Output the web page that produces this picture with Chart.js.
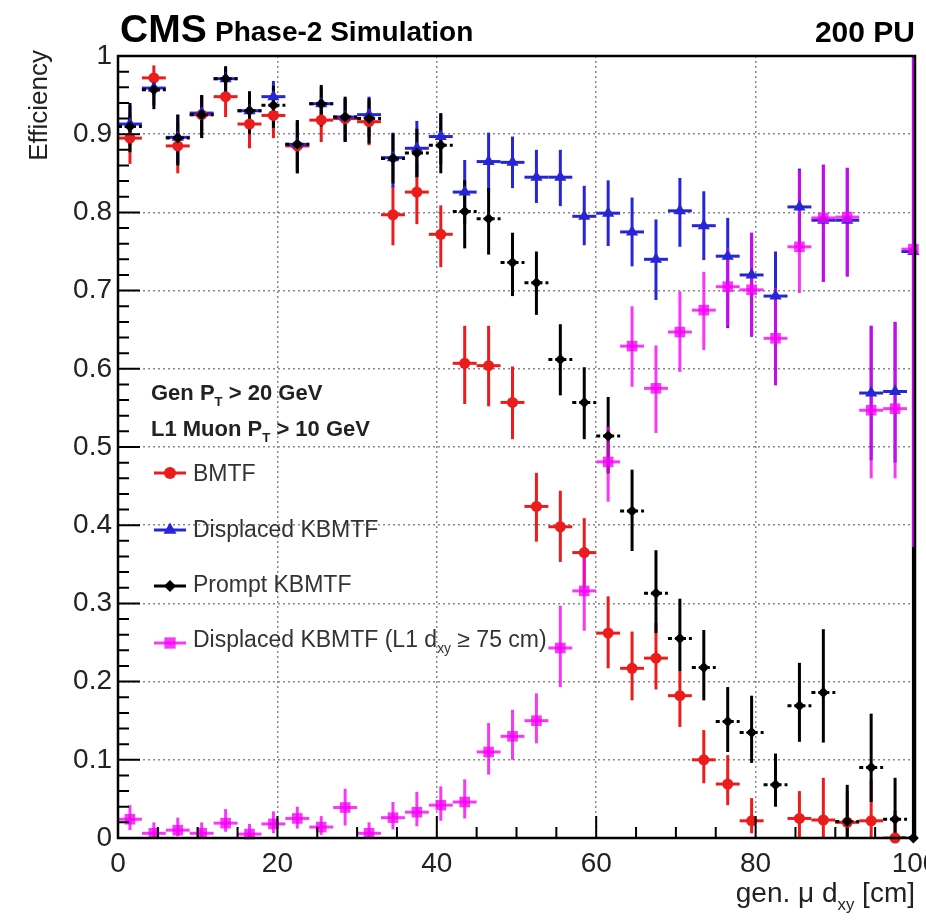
<!DOCTYPE html>
<html>
<head>
<meta charset="utf-8">
<title>L1 muon efficiency vs gen dxy</title>
<script src="https://cdn.jsdelivr.net/npm/chart.js@4.4.1/dist/chart.umd.min.js"></script>
<style>
  html, body { margin:0; padding:0; background:#fff; }
  #wrap { position:relative; width:926px; height:924px; overflow:hidden;
          font-family:"Liberation Sans", Arial, Helvetica, sans-serif; }
  #wrap canvas { position:absolute; left:0; top:0; }
  .lbl { position:absolute; white-space:nowrap; line-height:1; }
  .sub { font-size:60%; position:relative; top:0.45em; }
</style>
</head>
<body>
<div id="wrap"><canvas id="c" width="926" height="924"></canvas></div>
<script>
// efficiency vs generated muon dxy
// bin centres in cm (3 cm bins, last one sits on the right edge)
const binCenters = [1.5, 4.5, 7.5, 10.5, 13.5, 16.5, 19.5, 22.5, 25.5, 28.5, 31.5, 34.5,
  37.5, 40.5, 43.5, 46.5, 49.5, 52.5, 55.5, 58.5, 61.5, 64.5, 67.5, 70.5, 73.5, 76.5,
  79.5, 82.5, 85.5, 88.5, 91.5, 94.5, 97.5, 99.8];
const BIN_HALF = 1.5;

// BMTF (red)
const bmtfEff = [0.895, 0.972, 0.885, 0.925, 0.948, 0.913, 0.924, 0.885, 0.918, 0.920, 0.916, 0.797,
  0.826, 0.772, 0.607, 0.604, 0.557, 0.424, 0.398, 0.365, 0.262, 0.217, 0.230, 0.182, 0.100, 0.069,
  0.022, null, 0.025, 0.023, 0.020, 0.022, 0.0, null];
const bmtfLo = [0.862, 0.950, 0.850, 0.897, 0.922, 0.882, 0.895, 0.850, 0.890, 0.890, 0.886, 0.758,
  0.785, 0.730, 0.555, 0.552, 0.510, 0.379, 0.353, 0.320, 0.217, 0.176, 0.190, 0.142, 0.070, 0.042,
  0.006, null, 0.0, 0.0, 0.0, 0.0, 0.0, null];
const bmtfHi = [0.925, 0.988, 0.915, 0.950, 0.968, 0.940, 0.950, 0.915, 0.943, 0.945, 0.942, 0.834,
  0.865, 0.809, 0.655, 0.655, 0.603, 0.467, 0.444, 0.409, 0.309, 0.264, 0.275, 0.213, 0.138, 0.106,
  0.051, null, 0.060, 0.077, 0.060, 0.075, 0.035, null];

// Displaced KBMTF (blue)
const dispEff = [0.913, 0.959, 0.896, 0.927, 0.971, 0.930, 0.948, 0.887, 0.939, 0.922, 0.925, 0.870,
  0.882, 0.897, 0.826, 0.865, 0.864, 0.845, 0.845, 0.795, 0.799, 0.775, 0.740, 0.802, 0.783, 0.744,
  0.720, 0.693, 0.807, 0.790, 0.790, 0.569, 0.571, 0.750];
const dispLo = [0.885, 0.937, 0.862, 0.900, 0.952, 0.902, 0.922, 0.852, 0.912, 0.892, 0.897, 0.832,
  0.845, 0.862, 0.785, 0.825, 0.831, 0.812, 0.808, 0.758, 0.757, 0.731, 0.688, 0.756, 0.739, 0.652,
  0.641, 0.579, 0.750, 0.711, 0.718, 0.483, 0.480, 0.372];
const dispHi = [0.937, 0.976, 0.925, 0.950, 0.985, 0.953, 0.968, 0.918, 0.960, 0.946, 0.948, 0.902,
  0.917, 0.926, 0.867, 0.902, 0.897, 0.880, 0.880, 0.834, 0.841, 0.819, 0.791, 0.844, 0.827, 0.793,
  0.774, 0.750, 0.856, 0.861, 0.857, 0.655, 0.660, 1.0];

// Prompt KBMTF (black)
const promptEff = [0.910, 0.957, 0.895, 0.925, 0.971, 0.930, 0.937, 0.887, 0.939, 0.922, 0.920, 0.869,
  0.876, 0.886, 0.801, 0.792, 0.736, 0.710, 0.612, 0.557, 0.514, 0.418, 0.313, 0.255, 0.218, 0.149,
  0.135, 0.068, 0.169, 0.186, 0.021, 0.090, 0.024, 0.0];
const promptLo = [0.877, 0.932, 0.860, 0.895, 0.950, 0.900, 0.908, 0.850, 0.910, 0.890, 0.888, 0.837,
  0.845, 0.850, 0.754, 0.746, 0.693, 0.669, 0.566, 0.510, 0.466, 0.367, 0.262, 0.213, 0.176, 0.110,
  0.096, 0.040, 0.123, 0.122, 0.0, 0.046, 0.0, 0.0];
const promptHi = [0.940, 0.976, 0.925, 0.950, 0.987, 0.955, 0.962, 0.918, 0.963, 0.948, 0.946, 0.901,
  0.907, 0.927, 0.841, 0.831, 0.774, 0.750, 0.657, 0.602, 0.564, 0.471, 0.368, 0.306, 0.266, 0.193,
  0.182, 0.108, 0.224, 0.267, 0.068, 0.159, 0.077, 0.372];

// Displaced KBMTF, L1 dxy >= 75 cm (magenta)
const disp75Eff = [0.024, 0.006, 0.010, 0.006, 0.019, 0.005, 0.018, 0.025, 0.014, 0.039, 0.006, 0.026,
  0.033, 0.042, 0.046, 0.110, 0.130, 0.150, 0.243, 0.316, 0.481, 0.629, 0.575, 0.647, 0.675, 0.705,
  0.701, 0.639, 0.756, 0.793, 0.794, 0.547, 0.549, 0.753];
const disp75Lo = [0.010, 0.0, 0.002, 0.0, 0.008, 0.0, 0.006, 0.012, 0.004, 0.016, 0.0, 0.011,
  0.015, 0.022, 0.025, 0.081, 0.100, 0.121, 0.193, 0.265, 0.430, 0.577, 0.518, 0.596, 0.624, 0.654,
  0.641, 0.579, 0.697, 0.711, 0.718, 0.460, 0.460, 0.372];
const disp75Hi = [0.042, 0.020, 0.026, 0.020, 0.037, 0.018, 0.034, 0.040, 0.028, 0.063, 0.020, 0.046,
  0.059, 0.066, 0.075, 0.147, 0.164, 0.185, 0.297, 0.368, 0.526, 0.680, 0.630, 0.699, 0.724, 0.754,
  0.774, 0.703, 0.854, 0.861, 0.857, 0.655, 0.660, 1.0];

// axis ticks
const xTicks = [0, 20, 40, 60, 80, 100];
const xTickLabels = ['0', '20', '40', '60', '80', '100'];
const yTicks = [0, 0.1, 0.2, 0.3, 0.4, 0.5, 0.6, 0.7, 0.8, 0.9, 1];
const yTickLabels = ['0', '0.1', '0.2', '0.3', '0.4', '0.5', '0.6', '0.7', '0.8', '0.9', '1'];

const W = 926;
const RED = 'rgb(236,28,28)', BLUE = 'rgb(38,38,214)', BLACK = '#000',
      MAGENTA = 'rgba(246,0,246,0.78)';

function points(eff, lo, hi) {
  const out = [];
  binCenters.forEach((x, i) => {
    if (eff[i] === null) return;
    out.push({ x: x, y: eff[i], lo: lo[i], hi: hi[i] });
  });
  return out;
}

// vertical + horizontal error bars, drawn under the markers
const errorBars = {
  id: 'errorBars',
  beforeDatasetsDraw(chart) {
    const { ctx, chartArea: a, scales: { x, y } } = chart;
    ctx.save();
    ctx.beginPath();
    ctx.rect(a.left, a.top - 2, a.width, a.height + 2);
    ctx.clip();
    chart.data.datasets.forEach(ds => {
      ctx.strokeStyle = ds.borderColor;
      ctx.lineWidth = 3;
      ds.data.forEach(p => {
        const px = x.getPixelForValue(p.x), py = y.getPixelForValue(p.y);
        ctx.setLineDash([]);
        ctx.beginPath();
        ctx.moveTo(px, y.getPixelForValue(p.lo));
        ctx.lineTo(px, y.getPixelForValue(p.hi));
        ctx.stroke();
        ctx.setLineDash(ds.hDash || []);
        ctx.beginPath();
        ctx.moveTo(x.getPixelForValue(p.x - BIN_HALF), py);
        ctx.lineTo(x.getPixelForValue(p.x + BIN_HALF), py);
        ctx.stroke();
      });
    });
    ctx.restore();
  }
};

function marker(ctx, style, cx, cy, r, color) {
  ctx.fillStyle = color;
  ctx.beginPath();
  if (style === 'circle') ctx.arc(cx, cy, r, 0, Math.PI * 2);
  else if (style === 'triangle') {
    ctx.moveTo(cx, cy - r); ctx.lineTo(cx + r * 0.866, cy + r * 0.5); ctx.lineTo(cx - r * 0.866, cy + r * 0.5);
  } else if (style === 'rectRot') {
    ctx.moveTo(cx, cy - r); ctx.lineTo(cx + r, cy); ctx.lineTo(cx, cy + r); ctx.lineTo(cx - r, cy);
  } else {
    const s = r * Math.SQRT1_2; ctx.rect(cx - s, cy - s, 2 * s, 2 * s);
  }
  ctx.closePath();
  ctx.fill();
}

// ROOT-like frame with inward ticks, plus legend swatches
const frame = {
  id: 'frame',
  afterDraw(chart) {
    const { ctx, chartArea: a, scales: { x, y } } = chart;
    ctx.save();
    ctx.strokeStyle = '#000';
    ctx.lineWidth = 2;
    ctx.beginPath();
    for (let v = 0; v <= 100.001; v += 5) {
      const px = x.getPixelForValue(v), len = (v % 20 === 0) ? 22 : 11;
      ctx.moveTo(px, a.bottom); ctx.lineTo(px, a.bottom - len);
    }
    for (let k = 0; k <= 50; k++) {
      const py = y.getPixelForValue(k * 0.02), len = (k % 5 === 0) ? 22 : 11;
      ctx.moveTo(a.left, py); ctx.lineTo(a.left + len, py);
    }
    ctx.stroke();
    ctx.lineWidth = 2.5;
    ctx.strokeRect(a.left, a.top, a.right - a.left, a.bottom - a.top);

    // legend swatches
    const rows = [[473, RED, 'circle', 6], [530, BLUE, 'triangle', 7.5], [586, BLACK, 'rectRot', 6], [643, MAGENTA, 'rect', 8]];
    rows.forEach(r => {
      ctx.strokeStyle = r[1];
      ctx.lineWidth = 3;
      ctx.beginPath(); ctx.moveTo(154, r[0]); ctx.lineTo(186, r[0]); ctx.stroke();
      marker(ctx, r[2], 170, r[0], r[3], r[1]);
    });
    ctx.restore();
  }
};

Chart.defaults.font.family = '"Liberation Sans", Arial, sans-serif';

function ds(label, eff, lo, hi, color, style, radius, order, hDash) {
  return {
    label: label, data: points(eff, lo, hi),
    borderColor: color, backgroundColor: color,
    pointStyle: style, pointRadius: radius, pointBorderWidth: 0,
    pointHoverRadius: radius, showLine: false, clip: false, order: order, hDash: hDash
  };
}

new Chart(document.getElementById('c'), {
  type: 'scatter',
  data: {
    datasets: [
      ds('BMTF', bmtfEff, bmtfLo, bmtfHi, RED, 'circle', 5.5, 4),
      ds('Displaced KBMTF', dispEff, dispLo, dispHi, BLUE, 'triangle', 7, 3),
      ds('Prompt KBMTF', promptEff, promptLo, promptHi, BLACK, 'rectRot', 5.5, 2, [4, 3]),
      ds('Displaced KBMTF (L1 dxy ≥ 75 cm)', disp75Eff, disp75Lo, disp75Hi, MAGENTA, 'rect', 7.5, 1)
    ]
  },
  options: {
    responsive: false,
    animation: false,
    events: [],
    layout: { padding: { top: 56, right: 11, left: 0, bottom: 0 } },
    plugins: { legend: { display: false }, tooltip: { enabled: false } },
    scales: {
      x: {
        type: 'linear', min: 0, max: 100,
        afterFit(s) { s.height = 86; s.paddingLeft = 0; s.paddingRight = 0; },
        afterBuildTicks(s) { s.ticks = xTicks.map(v => ({ value: v })); },
        ticks: {
          padding: 9, maxRotation: 0, autoSkip: false, color: '#222',
          font: { size: 28 },
          callback: (v, i) => xTickLabels[i]
        },
        grid: {
          drawTicks: false, lineWidth: 1.5,
          color: c => (c.tick && (c.tick.value === 0 || c.tick.value === 100)) ? 'rgba(0,0,0,0)' : '#888'
        },
        border: { display: false, dash: [2, 3] }
      },
      y: {
        type: 'linear', min: 0, max: 1,
        afterFit(s) { s.width = 118; s.paddingTop = 0; s.paddingBottom = 0; },
        afterBuildTicks(s) { s.ticks = yTicks.map(v => ({ value: v })); },
        ticks: {
          padding: 6, color: '#222',
          font: { size: 28 },
          callback: (v, i) => yTickLabels[i]
        },
        grid: {
          drawTicks: false, lineWidth: 1.5,
          color: c => (c.tick && (c.tick.value === 0 || c.tick.value === 1)) ? 'rgba(0,0,0,0)' : '#888'
        },
        border: { display: false, dash: [2, 3] }
      }
    }
  },
  plugins: [errorBars, frame]
});

// text: placed by baseline
const wrap = document.getElementById('wrap');
function put(html, x, base, size, bold, color, align) {
  const d = document.createElement('div');
  d.className = 'lbl';
  d.innerHTML = html;
  d.style.fontSize = size + 'px';
  d.style.fontWeight = bold ? 'bold' : 'normal';
  d.style.color = color;
  d.style.top = (base - 0.8465 * size) + 'px';
  if (align === 'right') d.style.right = (W - x) + 'px';
  else d.style.left = x + 'px';
  wrap.appendChild(d);
}

put('CMS', 120, 42, 39, true, '#000');
put('Phase-2 Simulation', 215, 42, 28, true, '#000');
put('200 PU', 915, 42, 30, true, '#000', 'right');

put('Gen P<span class="sub">T</span> &gt; 20 GeV', 151, 401, 22, true, '#222');
put('L1 Muon P<span class="sub">T</span> &gt; 10 GeV', 151, 437, 22, true, '#222');
put('BMTF', 193, 481, 23, false, '#333');
put('Displaced KBMTF', 193, 537, 23, false, '#333');
put('Prompt KBMTF', 193, 592, 23, false, '#333');
put('Displaced KBMTF (L1 d<span class="sub">xy</span> ≥ 75 cm)', 193, 647, 23, false, '#333');

put('gen. μ d<span class="sub">xy</span> [cm]', 915, 903, 28, false, '#222', 'right');

// y title, rotated, reading upwards, top end near y=50
const yt = document.createElement('div');
yt.className = 'lbl';
yt.textContent = 'Efficiency';
yt.style.cssText += 'font-size:26px;color:#222;width:300px;text-align:right;' +
  'transform:rotate(-90deg);transform-origin:0 0;';
yt.style.left = (47 - 0.8465 * 26) + 'px';
yt.style.top = (50 + 300) + 'px';
wrap.appendChild(yt);
</script>
</body>
</html>
